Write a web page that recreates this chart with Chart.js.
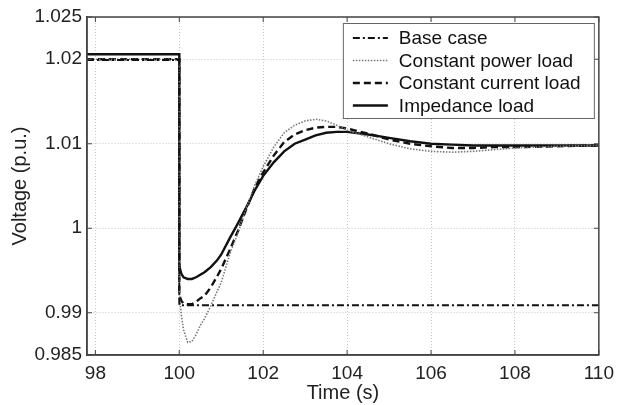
<!DOCTYPE html>
<html>
<head>
<meta charset="utf-8">
<script src="https://cdn.jsdelivr.net/npm/chart.js@4/dist/chart.umd.min.js"></script>
<style>
  html, body { margin: 0; padding: 0; background: #fff; }
  #wrap { width: 621px; height: 405px; }
</style>
</head>
<body>
<div id="wrap"><canvas id="voltChart" width="621" height="405"></canvas></div>
<script>
// time axis (s) for the three load models, 100 s is the disturbance
const timeLoad = [97.8, 100, 100, 100.05, 100.1, 100.2, 100.3, 100.4, 100.5, 100.6, 100.75, 100.9, 101,
  101.2, 101.4, 101.6, 101.8, 102, 102.25, 102.5, 102.75, 103, 103.25, 103.5, 103.75, 104,
  104.5, 105, 105.5, 106, 106.5, 107, 107.5, 108, 109, 110];

// voltages (p.u.)
const voltPower = [1.0200, 1.0200, 0.9920, 0.9897, 0.9880, 0.9865, 0.9866, 0.9874, 0.9885, 0.9893, 0.9908, 0.9925, 0.9936,
  0.9969, 0.9995, 1.0024, 1.0051, 1.0073, 1.0096, 1.0113, 1.0122, 1.0127, 1.0129, 1.0127, 1.0122, 1.0116,
  1.0108, 1.0100, 1.0094, 1.0091, 1.0090, 1.0091, 1.0093, 1.0095, 1.0097, 1.0098];
const voltCurrent = [1.0200, 1.0200, 0.9921, 0.9914, 0.9911, 0.9910, 0.9910, 0.9913, 0.9917, 0.9920, 0.9930, 0.9943, 0.9952,
  0.9974, 0.9997, 1.0023, 1.0048, 1.0066, 1.0086, 1.0102, 1.0111, 1.0116, 1.0119, 1.0120, 1.0120, 1.0118,
  1.0112, 1.0105, 1.0100, 1.0097, 1.0095, 1.0095, 1.0096, 1.0096, 1.0097, 1.0098];
const voltImpedance = [1.0206, 1.0206, 0.9955, 0.9946, 0.9942, 0.9940, 0.9940, 0.9942, 0.9945, 0.9948, 0.9954, 0.9962, 0.9969,
  0.9988, 1.0006, 1.0025, 1.0045, 1.0062, 1.0078, 1.0091, 1.0100, 1.0105, 1.0110, 1.0113, 1.0114, 1.0114,
  1.0111, 1.0107, 1.0103, 1.0100, 1.0099, 1.0098, 1.0098, 1.0098, 1.0098, 1.0098];

// base case is a straight step
const timeBase = [97.8, 100, 100, 110];
const voltBase = [1.0199, 1.0199, 0.9909, 0.9909];

const seriesLabels = ["Base case", "Constant power load", "Constant current load", "Impedance load"];
const xTicks = [98, 100, 102, 104, 106, 108, 110];
const yTicks = [0.985, 0.99, 1, 1.01, 1.02, 1.025];

const fontFamily = "'Liberation Sans', Arial, Helvetica, sans-serif";

function toPoints(times, volts) {
    return times.map(function (t, i) { return { x: t, y: volts[i] }; });
}

// frame + inward tick marks like the matlab axes
const framePlugin = {
    id: 'frame',
    afterDatasetsDraw: function (chart) {
        const ctx = chart.ctx;
        const a = chart.chartArea;
        const xs = chart.scales.x;
        const ys = chart.scales.y;
        ctx.save();
        ctx.strokeStyle = '#444';
        ctx.lineWidth = 1.5;
        ctx.setLineDash([]);
        ctx.strokeRect(a.left, a.top, a.right - a.left, a.bottom - a.top);
        ctx.lineWidth = 1;
        ctx.beginPath();
        xTicks.forEach(function (v) {
            const px = xs.getPixelForValue(v);
            ctx.moveTo(px, a.bottom); ctx.lineTo(px, a.bottom - 5);
            ctx.moveTo(px, a.top); ctx.lineTo(px, a.top + 5);
        });
        yTicks.forEach(function (v) {
            const py = ys.getPixelForValue(v);
            ctx.moveTo(a.left, py); ctx.lineTo(a.left + 5, py);
            ctx.moveTo(a.right, py); ctx.lineTo(a.right - 5, py);
        });
        ctx.stroke();
        ctx.restore();
    }
};

// legend box inside the plot, top right
const boxLegendPlugin = {
    id: 'boxLegend',
    afterDraw: function (chart) {
        const ctx = chart.ctx;
        const a = chart.chartArea;
        const w = 251, h = 95;
        const left = a.right - 5 - w;
        const top = a.top + 6;
        ctx.save();
        ctx.fillStyle = '#fff';
        ctx.fillRect(left, top, w, h);
        ctx.strokeStyle = '#666';
        ctx.lineWidth = 1;
        ctx.setLineDash([]);
        ctx.strokeRect(left + 0.5, top + 0.5, w, h);
        ctx.font = '19px ' + fontFamily;
        ctx.textBaseline = 'middle';
        chart.data.datasets.forEach(function (ds, i) {
            const y = top + 15 + i * 22.5;
            ctx.strokeStyle = ds.borderColor;
            ctx.lineWidth = ds.borderWidth;
            ctx.setLineDash(ds.borderDash || []);
            ctx.beginPath();
            ctx.moveTo(left + 10, y);
            ctx.lineTo(left + 45, y);
            ctx.stroke();
            ctx.fillStyle = '#111';
            ctx.fillText(ds.label, left + 56, y + 1);
        });
        ctx.restore();
    }
};

const ctx = document.getElementById('voltChart');

const voltChart = new Chart(ctx, {
    type: 'line',
    data: {
        datasets: [
            {
                label: seriesLabels[0],
                data: toPoints(timeBase, voltBase),
                borderColor: '#111',
                borderWidth: 2,
                borderDash: [7, 3, 2, 3]
            },
            {
                label: seriesLabels[1],
                data: toPoints(timeLoad, voltPower),
                borderColor: '#777',
                borderWidth: 1.6,
                borderDash: [1.5, 1.5]
            },
            {
                label: seriesLabels[2],
                data: toPoints(timeLoad, voltCurrent),
                borderColor: '#111',
                borderWidth: 2.4,
                borderDash: [7, 4]
            },
            {
                label: seriesLabels[3],
                data: toPoints(timeLoad, voltImpedance),
                borderColor: '#111',
                borderWidth: 2.4,
                borderDash: []
            }
        ]
    },
    options: {
        responsive: false,
        animation: false,
        parsing: false,
        elements: {
            point: { radius: 0 },
            line: { tension: 0, fill: false, borderCapStyle: 'butt' }
        },
        layout: { padding: { top: 17, right: 18, left: 0, bottom: 0 } },
        plugins: {
            legend: { display: false },
            tooltip: { enabled: false }
        },
        scales: {
            x: {
                type: 'linear',
                min: 97.8,
                max: 110,
                afterBuildTicks: function (scale) {
                    scale.ticks = xTicks.map(function (v) { return { value: v }; });
                },
                afterFit: function (scale) { scale.height = 50; },
                ticks: {
                    color: '#222',
                    padding: 7,
                    maxRotation: 0,
                    font: { family: fontFamily, size: 19 }
                },
                grid: { color: '#c8c8c8', lineWidth: 1, drawTicks: false },
                border: { display: true, color: '#444', width: 1.5, dash: [1, 2] },
                title: {
                    display: true,
                    text: 'Time (s)',
                    color: '#222',
                    padding: { top: 0, bottom: 0 },
                    font: { family: fontFamily, size: 20 }
                }
            },
            y: {
                type: 'linear',
                min: 0.985,
                max: 1.025,
                afterBuildTicks: function (scale) {
                    scale.ticks = yTicks.map(function (v) { return { value: v }; });
                },
                afterFit: function (scale) { scale.width = 87; },
                ticks: {
                    color: '#222',
                    padding: 5,
                    font: { family: fontFamily, size: 19 },
                    callback: function (value) { return String(parseFloat(Number(value).toFixed(3))); }
                },
                grid: { color: '#c8c8c8', lineWidth: 1, drawTicks: false },
                border: { display: true, color: '#444', width: 1.5, dash: [1, 2] },
                title: {
                    display: true,
                    text: 'Voltage (p.u.)',
                    color: '#222',
                    padding: { top: 8, bottom: 8 },
                    font: { family: fontFamily, size: 20 }
                }
            }
        }
    },
    plugins: [framePlugin, boxLegendPlugin]
});
</script>
</body>
</html>
